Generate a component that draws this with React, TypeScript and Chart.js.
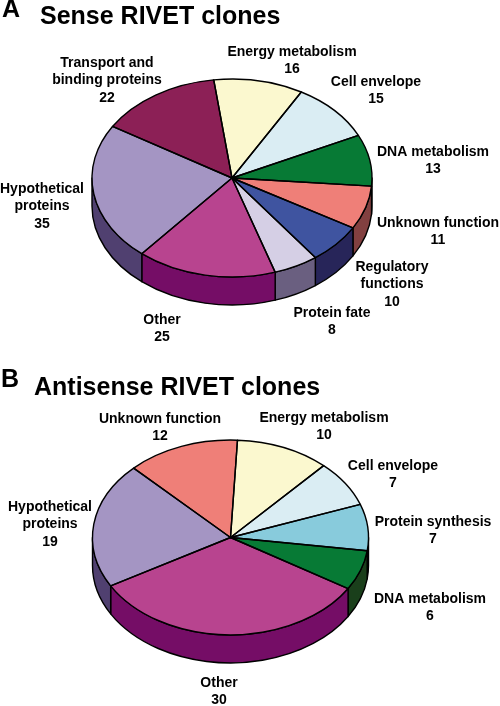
import React, { useEffect, useRef } from "react";
import { Chart, registerables } from "chart.js";

Chart.register(...registerables);

// ---- Data, panel A
const senseCategories = [
  ["Energy metabolism"],
  ["Cell envelope"],
  ["DNA metabolism"],
  ["Unknown function"],
  ["Regulatory", "functions"],
  ["Protein fate"],
  ["Other"],
  ["Hypothetical", "proteins"],
  ["Transport and", "binding proteins"],
];
const senseValues = [16, 15, 13, 11, 10, 8, 25, 35, 22];
const senseColors = ["#FBF8CF", "#DAEDF3", "#077A35", "#EF7F78", "#3F54A0", "#D5CFE5", "#B8448F", "#A495C3", "#8C2056"];
const senseSides = ["#7D7C67", "#6D7679", "#1A3F1B", "#824040", "#272559", "#6A5F80", "#750D66", "#504070", "#46102B"];
const senseLabelAnchors = [
  [292, 52], [376, 82], [433, 152], [438, 223], [392, 267], [332, 313], [162, 320], [42, 189], [107, 63],
];

// ---- Data, panel B
const antisenseCategories = [
  ["Energy metabolism"],
  ["Cell envelope"],
  ["Protein synthesis"],
  ["DNA metabolism"],
  ["Other"],
  ["Hypothetical", "proteins"],
  ["Unknown function"],
];
const antisenseValues = [10, 7, 7, 6, 30, 19, 12];
const antisenseColors = ["#FBF8CF", "#DAEDF3", "#88CBDC", "#077A35", "#B8448F", "#A495C3", "#EF7F78"];
const antisenseSides = ["#7D7C67", "#6D7679", "#44656E", "#1A3F1B", "#750D66", "#504070", "#824040"];
const antisenseLabelAnchors = [
  [324, 65], [393, 113], [433, 169], [430, 246], [219, 330], [50, 154], [160, 66],
];

const LABEL_FONT = 'bold 14px "Liberation Sans", Arial, sans-serif';
const TITLE_FONT = 'bold 25px "Liberation Sans", Arial, sans-serif';
const LINE_GAP = 17.5;

type Panel = {
  categories: string[][];
  values: number[];
  colors: string[];
  sides: string[];
  anchors: number[][];
  letter: string;
  letterPos: number[];
  title: string;
  titlePos: number[];
  rotation: number;
  cx: number;
  cy: number;
  radius: number;
  squash: number;
  depth: number;
  height: number;
};

const panels: Panel[] = [
  {
    categories: senseCategories,
    values: senseValues,
    colors: senseColors,
    sides: senseSides,
    anchors: senseLabelAnchors,
    letter: "A",
    letterPos: [2, 17],
    title: "Sense RIVET clones",
    titlePos: [40, 24],
    rotation: -7.5,
    cx: 232,
    cy: 178,
    radius: 140,
    squash: 0.707,
    depth: 28,
    height: 353,
  },
  {
    categories: antisenseCategories,
    values: antisenseValues,
    colors: antisenseColors,
    sides: antisenseSides,
    anchors: antisenseLabelAnchors,
    letter: "B",
    letterPos: [1, 34],
    title: "Antisense RIVET clones",
    titlePos: [34, 42],
    rotation: 2.9,
    cx: 230.5,
    cy: 184.5,
    radius: 138,
    squash: 0.706,
    depth: 28,
    height: 353,
  },
];

function tiltPlugin(p: Panel) {
  const arcs = (chart: any) => chart.getDatasetMeta(0).data.map((a: any) =>
    a.getProps(["x", "y", "startAngle", "endAngle", "outerRadius"], true)
  );
  return {
    id: "tilt",
    beforeDatasetsDraw(chart: any) {
      const ctx = chart.ctx;
      const list = arcs(chart);
      ctx.save();
      ctx.lineWidth = 1.4;
      ctx.strokeStyle = "#000";
      ctx.lineJoin = "round";
      list.forEach((a: any, i: number) => {
        const ry = a.outerRadius * p.squash;
        // the visible rim is the part of the slice on the front half of the ellipse
        const ranges = [
          [a.startAngle, a.endAngle],
          [a.startAngle - 2 * Math.PI, a.endAngle - 2 * Math.PI],
          [a.startAngle + 2 * Math.PI, a.endAngle + 2 * Math.PI],
        ];
        ranges.forEach(([s, e]) => {
          const from = Math.max(s, 0);
          const to = Math.min(e, Math.PI);
          if (to <= from) return;
          ctx.beginPath();
          ctx.ellipse(a.x, a.y + p.depth, a.outerRadius, ry, 0, from, to, false);
          ctx.ellipse(a.x, a.y, a.outerRadius, ry, 0, to, from, true);
          ctx.closePath();
          ctx.fillStyle = p.sides[i];
          ctx.fill();
          ctx.stroke();
        });
      });
      ctx.restore();
      // the pie itself is drawn by Chart.js, flattened into an ellipse
      ctx.save();
      ctx.translate(p.cx, p.cy);
      ctx.scale(1, p.squash);
      ctx.translate(-p.cx, -p.cy);
    },
    afterDatasetsDraw(chart: any) {
      const ctx = chart.ctx;
      ctx.restore();
      const list = arcs(chart);
      ctx.save();
      ctx.lineWidth = 1.4;
      ctx.strokeStyle = "#000";
      ctx.lineJoin = "round";
      list.forEach((a: any) => {
        const ry = a.outerRadius * p.squash;
        ctx.beginPath();
        ctx.moveTo(a.x, a.y);
        ctx.ellipse(a.x, a.y, a.outerRadius, ry, 0, a.startAngle, a.endAngle, false);
        ctx.closePath();
        ctx.stroke();
      });
      ctx.restore();

      // texts
      ctx.save();
      ctx.fillStyle = "#000";
      ctx.textBaseline = "alphabetic";
      ctx.textAlign = "left";
      ctx.font = TITLE_FONT;
      ctx.fillText(p.letter, p.letterPos[0], p.letterPos[1]);
      ctx.fillText(p.title, p.titlePos[0], p.titlePos[1]);
      ctx.font = LABEL_FONT;
      ctx.textAlign = "center";
      ctx.textBaseline = "middle";
      p.categories.forEach((lines, i) => {
        const [x, y] = p.anchors[i];
        [...lines, String(p.values[i])].forEach((t, k) => {
          ctx.fillText(t, x, y + k * LINE_GAP);
        });
      });
      ctx.restore();
    },
  };
}

function PieCanvas({ panel, top }: { panel: Panel; top: number }) {
  const ref = useRef<HTMLCanvasElement>(null);
  useEffect(() => {
    const chart = new Chart(ref.current as HTMLCanvasElement, {
      type: "pie",
      data: {
        labels: panel.categories.map((c) => c.join(" ")),
        datasets: [
          {
            data: panel.values,
            backgroundColor: panel.colors,
            borderWidth: 0,
          },
        ],
      },
      options: {
        animation: false,
        responsive: false,
        events: [],
        rotation: panel.rotation,
        layout: {
          padding: {
            left: panel.cx - panel.radius,
            right: 500 - panel.cx - panel.radius,
            top: panel.cy - panel.radius,
            bottom: panel.height - panel.cy - panel.radius,
          },
        },
        plugins: { legend: { display: false }, title: { display: false }, tooltip: { enabled: false } },
      },
      plugins: [tiltPlugin(panel)],
    } as any);
    return () => chart.destroy();
  }, [panel]);
  return (
    <canvas
      ref={ref}
      width={500}
      height={panel.height}
      style={{ position: "absolute", left: 0, top, width: 500, height: panel.height, display: "block" }}
    />
  );
}

export default function App() {
  return (
    <div style={{ position: "absolute", left: 0, top: 0, width: 500, height: 706, background: "#fff", overflow: "hidden" }}>
      <PieCanvas panel={panels[0]} top={0} />
      <PieCanvas panel={panels[1]} top={353} />
    </div>
  );
}
